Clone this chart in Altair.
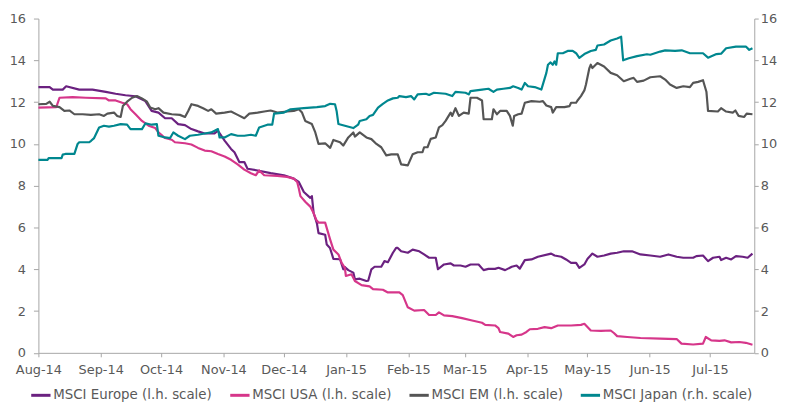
import altair as alt
import pandas as pd

# day offsets from 2014-08-01
europe_days = [0, 5.6, 7.2, 12.1, 13.8, 20.3, 26.9, 33.5, 38.4, 43.3, 48.3, 53.2, 56.3, 59.7, 63.0, 66.3, 69.5, 72.9, 76.1, 79.4, 82.7, 87.6, 89.3, 92.6, 95.8, 97.5, 99.9, 102.4, 104.0, 109.0, 115.5, 122.1, 127.0, 129.5, 132.0, 135.2, 136.0, 136.9, 138.5, 139.3, 142.6, 143.4, 145.0, 146.7, 150.0, 151.6, 152.5, 154.1, 156.6, 157.4, 159.8, 163.1, 164.0, 165.6, 167.2, 170.5, 172.1, 173.8, 176.3, 177.9, 178.7, 180.4, 183.7, 186.1, 189.4, 191.8, 194.3, 197.6, 198.7, 201.7, 205.0, 206.6, 209.9, 212.4, 214.9, 218.9, 221.4, 223.8, 227.1, 228.8, 232.1, 235.4, 237.8, 239.4, 241.9, 245.2, 248.4, 255.0, 256.7, 260.0, 262.4, 264.9, 267.4, 269.0, 271.5, 273.1, 275.5, 278.0, 281.3, 284.6, 287.8, 291.1, 295.2, 299.4, 304.3, 309.2, 313.3, 317.4, 320.7, 325.6, 327.2, 330.5, 333.0, 335.5, 338.7, 339.5, 342.0, 344.5, 346.9, 350.2, 352.7, 355.1]
europe_vals = [12.72, 12.72, 12.6, 12.6, 12.76, 12.6, 12.6, 12.49, 12.4, 12.33, 12.28, 12.05, 11.58, 11.5, 11.23, 11.23, 10.95, 10.9, 10.71, 10.6, 10.5, 10.5, 10.63, 10.16, 9.76, 9.6, 9.13, 9.13, 8.81, 8.73, 8.6, 8.5, 8.34, 8.18, 7.7, 7.42, 7.5, 6.68, 6.2, 5.73, 5.65, 5.18, 5.02, 4.5, 4.48, 4.0, 4.1, 3.96, 3.84, 3.52, 3.55, 3.44, 3.45, 4.0, 4.12, 4.12, 4.39, 4.34, 4.79, 5.02, 5.02, 4.86, 4.79, 4.94, 4.86, 4.71, 4.55, 4.55, 4.0, 4.23, 4.28, 4.18, 4.18, 4.12, 4.23, 4.23, 3.96, 4.02, 4.02, 4.07, 3.96, 4.12, 4.18, 4.03, 4.44, 4.47, 4.6, 4.75, 4.66, 4.6, 4.47, 4.31, 4.31, 4.07, 4.23, 4.5, 4.75, 4.6, 4.66, 4.75, 4.79, 4.86, 4.86, 4.71, 4.66, 4.6, 4.71, 4.6, 4.55, 4.55, 4.63, 4.66, 4.39, 4.55, 4.6, 4.44, 4.55, 4.47, 4.63, 4.6, 4.55, 4.75]

usa_days = [0, 8.9, 10.5, 17.0, 23.6, 33.5, 35.1, 38.4, 41.7, 44.1, 45.8, 48.3, 51.5, 54.8, 58.1, 59.7, 63.0, 66.3, 67.9, 72.9, 76.1, 79.4, 82.7, 86.0, 89.3, 92.6, 95.8, 99.1, 102.4, 105.7, 108.1, 109.8, 112.3, 118.8, 123.7, 127.0, 128.7, 129.5, 130.3, 132.7, 135.2, 136.9, 138.2, 139.4, 142.6, 145.1, 146.7, 149.2, 150.8, 152.4, 152.9, 155.7, 157.4, 160.7, 164.7, 166.4, 171.3, 173.8, 179.5, 181.2, 183.7, 186.9, 191.8, 194.3, 197.6, 199.2, 201.7, 205.8, 210.7, 215.7, 220.6, 222.2, 227.1, 228.8, 229.6, 233.7, 236.1, 237.8, 240.3, 242.7, 244.4, 248.4, 251.7, 255.0, 258.3, 264.9, 269.8, 271.5, 274.7, 279.7, 284.6, 286.2, 287.8, 292.8, 299.4, 309.2, 317.4, 319.8, 325.6, 330.5, 331.9, 334.6, 338.7, 341.2, 344.5, 348.6, 351.8, 355.1]
usa_vals = [11.74, 11.76, 12.21, 12.24, 12.21, 12.18, 12.08, 12.08, 11.97, 11.9, 11.66, 11.42, 11.1, 10.87, 10.76, 10.55, 10.28, 10.2, 10.08, 10.03, 9.97, 9.81, 9.68, 9.65, 9.52, 9.4, 9.24, 9.02, 8.77, 8.6, 8.5, 8.73, 8.5, 8.47, 8.42, 8.34, 8.18, 7.87, 7.5, 7.23, 7.0, 6.68, 6.36, 6.23, 6.23, 5.42, 4.94, 4.71, 4.31, 4.07, 3.68, 3.76, 3.44, 3.24, 3.18, 3.05, 3.02, 2.89, 2.89, 2.76, 2.18, 2.02, 2.05, 1.81, 1.81, 1.94, 1.79, 1.76, 1.66, 1.55, 1.44, 1.34, 1.31, 1.18, 1.0, 0.92, 0.76, 0.84, 0.87, 1.0, 1.13, 1.15, 1.23, 1.18, 1.31, 1.31, 1.34, 1.39, 1.07, 1.05, 1.07, 0.95, 0.8, 0.76, 0.71, 0.68, 0.66, 0.44, 0.4, 0.44, 0.76, 0.6, 0.57, 0.6, 0.5, 0.52, 0.48, 0.39]

em_days = [0, 3.9, 5.6, 7.2, 10.5, 12.9, 15.4, 17.9, 22.0, 26.1, 30.2, 32.6, 34.3, 37.6, 39.2, 40.9, 42.0, 44.1, 46.6, 49.0, 51.5, 54.0, 55.6, 58.1, 59.7, 62.2, 66.3, 70.4, 72.9, 74.5, 76.1, 79.4, 81.9, 84.4, 86.0, 88.4, 92.6, 95.8, 99.1, 102.4, 104.9, 109.0, 112.3, 115.5, 118.8, 123.7, 127.0, 129.5, 131.1, 132.7, 136.0, 137.7, 139.3, 142.6, 145.1, 146.7, 150.0, 151.6, 154.1, 156.6, 157.4, 159.8, 163.1, 165.6, 168.1, 170.5, 173.0, 175.5, 178.7, 180.4, 183.7, 186.1, 188.6, 191.0, 191.8, 193.5, 195.1, 197.6, 199.2, 200.9, 202.5, 205.0, 205.8, 207.4, 209.1, 211.5, 214.0, 214.9, 218.1, 220.6, 221.4, 225.5, 226.3, 228.0, 229.6, 232.9, 234.5, 235.9, 236.6, 238.6, 240.3, 241.9, 245.2, 249.3, 250.9, 252.6, 255.0, 255.8, 257.5, 261.6, 264.1, 264.9, 267.4, 268.1, 269.8, 271.5, 272.3, 274.0, 274.7, 275.5, 278.0, 281.3, 284.6, 287.8, 291.1, 294.4, 296.0, 297.7, 301.0, 304.3, 309.2, 311.7, 314.1, 317.4, 320.7, 324.0, 325.6, 328.1, 330.5, 332.2, 333.0, 337.9, 339.5, 342.0, 345.3, 346.6, 348.2, 351.0, 352.2, 355.1]
em_vals = [11.9, 11.92, 12.02, 11.82, 11.76, 11.58, 11.6, 11.42, 11.42, 11.39, 11.42, 11.34, 11.45, 11.5, 11.34, 11.29, 11.81, 12.02, 12.21, 12.29, 12.18, 12.02, 11.74, 11.66, 11.71, 11.5, 11.42, 11.39, 11.29, 11.58, 11.9, 11.82, 11.71, 11.58, 11.66, 11.45, 11.5, 11.55, 11.39, 11.23, 11.45, 11.5, 11.55, 11.6, 11.5, 11.55, 11.58, 11.66, 11.5, 11.1, 10.95, 10.55, 10.0, 10.03, 9.81, 10.19, 10.08, 9.92, 10.31, 10.55, 10.35, 10.55, 10.31, 10.23, 10.0, 9.84, 9.45, 9.5, 9.5, 9.02, 8.97, 9.5, 9.6, 9.6, 9.84, 9.84, 10.24, 10.31, 10.79, 10.9, 11.1, 11.5, 11.34, 11.71, 11.34, 11.5, 11.45, 12.21, 12.21, 12.08, 11.18, 11.18, 11.66, 11.42, 11.58, 11.58, 11.34, 10.87, 11.34, 11.42, 11.45, 11.97, 12.05, 12.02, 12.05, 11.84, 11.76, 11.5, 11.76, 11.76, 11.81, 11.97, 11.97, 12.08, 12.29, 12.56, 12.84, 13.63, 13.79, 13.63, 13.87, 13.71, 13.4, 13.29, 13.0, 13.12, 13.16, 12.97, 13.03, 13.19, 13.24, 13.08, 12.84, 12.68, 12.76, 12.72, 12.92, 12.97, 13.05, 12.5, 11.58, 11.55, 11.71, 11.55, 11.5, 11.6, 11.34, 11.29, 11.45, 11.42]

japan_days = [0, 4.6, 5.1, 11.5, 12.1, 13.4, 17.9, 19.5, 20.3, 25.3, 26.2, 27.7, 30.2, 32.6, 35.1, 37.6, 40.9, 44.1, 45.8, 51.5, 53.2, 56.4, 58.9, 59.7, 63.0, 65.5, 67.1, 69.5, 72.9, 75.3, 79.4, 82.7, 86.0, 89.3, 90.1, 92.6, 95.8, 99.1, 102.4, 105.7, 108.1, 109.8, 113.9, 116.3, 117.2, 122.1, 125.4, 132.0, 138.5, 142.6, 145.1, 147.5, 148.3, 149.2, 152.4, 156.6, 159.0, 159.8, 163.1, 164.7, 166.4, 168.9, 171.3, 173.8, 176.3, 178.7, 179.5, 182.8, 185.3, 186.9, 188.6, 192.7, 194.3, 196.7, 202.5, 205.8, 207.4, 212.4, 214.0, 214.9, 220.6, 223.8, 226.3, 228.0, 231.2, 234.5, 236.1, 238.6, 240.3, 241.9, 243.5, 246.8, 250.1, 252.6, 253.4, 254.7, 255.8, 256.7, 257.5, 258.3, 260.8, 263.2, 265.7, 267.4, 269.0, 271.5, 274.7, 277.2, 278.0, 281.3, 284.6, 287.8, 289.8, 290.8, 293.6, 297.7, 302.6, 304.3, 309.2, 311.7, 316.6, 319.9, 324.0, 330.5, 333.0, 337.2, 339.5, 342.0, 346.9, 351.8, 353.5, 355.1]
japan_vals = [9.24, 9.24, 9.32, 9.32, 9.49, 9.52, 9.52, 10.0, 10.08, 10.08, 10.15, 10.28, 10.79, 10.87, 10.83, 10.87, 10.95, 10.92, 10.71, 10.71, 10.98, 10.92, 10.95, 10.39, 10.31, 10.28, 10.55, 10.39, 10.23, 10.39, 10.44, 10.5, 10.55, 10.71, 10.31, 10.31, 10.47, 10.39, 10.39, 10.44, 10.39, 10.79, 10.92, 10.92, 11.45, 11.5, 11.66, 11.71, 11.76, 11.81, 11.92, 11.9, 11.58, 10.95, 10.87, 10.76, 10.92, 11.1, 11.18, 11.34, 11.39, 11.74, 11.92, 12.08, 12.18, 12.21, 12.29, 12.24, 12.29, 12.13, 12.37, 12.4, 12.34, 12.45, 12.4, 12.29, 12.49, 12.45, 12.37, 12.53, 12.6, 12.64, 12.49, 12.6, 12.64, 12.68, 12.76, 12.68, 12.6, 12.92, 12.76, 12.72, 12.6, 13.4, 13.79, 13.9, 13.79, 13.95, 13.79, 14.34, 14.34, 14.45, 14.45, 14.34, 14.12, 14.3, 14.45, 14.5, 14.71, 14.76, 14.95, 15.05, 15.13, 14.0, 14.1, 14.2, 14.29, 14.27, 14.42, 14.48, 14.45, 14.48, 14.34, 14.34, 14.13, 14.3, 14.32, 14.58, 14.66, 14.66, 14.5, 14.58]

series_names = ["MSCI Europe (l.h. scale)", "MSCI USA (l.h. scale)",
                "MSCI EM (l.h. scale)", "MSCI Japan (r.h. scale)"]
series_colors = ["#6b2180", "#d6368a", "#555555", "#00878f"]
month_ticks = [(2014, m) for m in range(8, 13)] + [(2015, m) for m in range(1, 8)]
y_ticks = [0, 2, 4, 6, 8, 10, 12, 14, 16]

start = pd.Timestamp("2014-08-01")
frames = []
for name, days, vals, side in [
    (series_names[0], europe_days, europe_vals, "left"),
    (series_names[1], usa_days, usa_vals, "left"),
    (series_names[2], em_days, em_vals, "left"),
    (series_names[3], japan_days, japan_vals, "right"),
]:
    frames.append(pd.DataFrame({
        "date": start + pd.to_timedelta(days, unit="D"),
        "value": vals,
        "series": name,
        "side": side,
    }))
df = pd.concat(frames, ignore_index=True)
df["order"] = df.groupby("series").cumcount()

FONT = "DejaVu Sans"
GREY = "#595959"
AXIS = "#a6a6a6"

x = alt.X(
    "date:T",
    scale=alt.Scale(domain=[alt.DateTime(year=2014, month=8, date=1),
                            alt.DateTime(year=2015, month=7, date=23)]),
    axis=alt.Axis(
        values=[alt.DateTime(year=y, month=m, date=1) for y, m in month_ticks],
        format="%b-%y", title=None, grid=False, tickSize=4, labelPadding=7,
        domainColor=AXIS, tickColor=AXIS, labelColor=GREY, labelFont=FONT,
        labelFontSize=13, labelFlush=False,
    ),
)
color = alt.Color(
    "series:N",
    scale=alt.Scale(domain=series_names, range=series_colors),
    legend=alt.Legend(
        title=None, orient="none", direction="horizontal",
        legendX=-9, legendY=369, symbolType="stroke", symbolStrokeWidth=3,
        symbolSize=380, labelOffset=1, columnPadding=11, labelLimit=300,
        labelFont=FONT, labelFontSize=13.5, labelColor=GREY,
    ),
)

left = alt.Chart(df).transform_filter(alt.datum.side == "left").mark_line(
    strokeWidth=2.2, strokeJoin="round"
).encode(
    x=x,
    y=alt.Y("value:Q", scale=alt.Scale(domain=[0, 16], nice=False),
            axis=alt.Axis(values=y_ticks, title=None, grid=False, orient="left",
                          tickSize=5, labelPadding=8, domainColor=AXIS,
                          tickColor=AXIS, labelColor=GREY, labelFont=FONT,
                          labelFontSize=13)),
    color=color,
    order="order:Q",
)

right = alt.Chart(df).transform_filter(alt.datum.side == "right").mark_line(
    strokeWidth=2.2, strokeJoin="round"
).encode(
    x=x,
    y=alt.Y("value:Q", scale=alt.Scale(domain=[0, 16], nice=False),
            axis=alt.Axis(values=y_ticks, title=None, grid=False, orient="right",
                          tickSize=4, labelPadding=2, domainColor=AXIS,
                          tickColor=AXIS, labelColor=GREY, labelFont=FONT,
                          labelFontSize=13)),
    color=color,
    order="order:Q",
)

chart = alt.layer(left, right).resolve_scale(y="independent").properties(
    width=723, height=337.6,
    autosize=alt.AutoSizeParams(type="none"),
    padding={"left": 30.7, "top": 8.7, "right": 28, "bottom": 50},
).configure_view(stroke=None)

chart.save("out.html", embed_options={"renderer": "svg", "actions": False})
